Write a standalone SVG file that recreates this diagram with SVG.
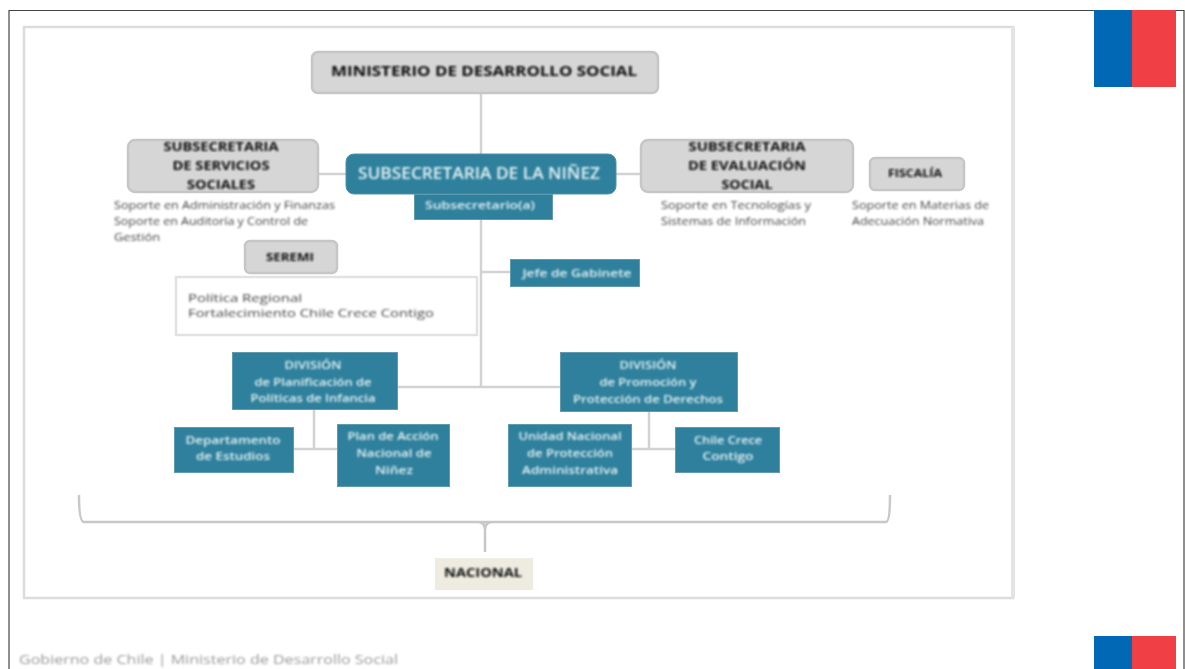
<svg xmlns="http://www.w3.org/2000/svg" width="1185" height="669" viewBox="0 0 1185 669">
<defs>
<filter id="b" x="-5%" y="-5%" width="110%" height="110%"><feGaussianBlur stdDeviation="0.8"/></filter>
<filter id="c" x="-2%" y="-2%" width="104%" height="104%"><feGaussianBlur stdDeviation="0.5"/></filter>
</defs>
<style>
text{font-family:"Open Sans","Liberation Sans",sans-serif;text-anchor:middle}
.g{fill:#d6d6d6;stroke:#c6c6c6;stroke-width:2.5}
.t{fill:#2e809c;stroke:#5f9aae;stroke-width:1}
.k text{fill:#111;font-weight:700;font-size:13px}
.w text{fill:#e6f2f5;font-weight:600;font-size:11.5px}
.n text{fill:#444;font-size:10.5px;text-anchor:start}
.l{fill:none;stroke:#d2d2d2;stroke-width:2.5}
</style>
<rect width="1185" height="669" fill="#fff"/>
<path d="M9 669V10.500H1184V669" fill="none" stroke="#444" stroke-width="1.200"/>
<g filter="url(#c)">
<path id="panel" d="M24 598V27H1013V598Z" fill="#fff" stroke="#dcdcdc" stroke-width="2.500"/>
<path d="M1013 27V598" stroke="#e4e4e4" stroke-width="4" fill="none"/>
<g id="flag-top"><rect x="1094" y="10" width="38" height="77" fill="#0067b4"/><rect x="1132" y="10" width="44" height="77" fill="#f04045"/></g>
<g id="flag-bottom"><rect x="1094" y="636" width="38" height="33" fill="#0067b4"/><rect x="1132" y="636" width="44" height="33" fill="#f04045"/></g>
<g id="connectors" class="l">
<path d="M481 93V154M481 219V387M398 387H560M318 174H346M616 174H641M481 272H510"/>
<path d="M314 410V449M293 449H337M649 412V449M632 449H675"/>
<path d="M79 495Q79 522 84 522H886Q890 522 890 495M485 552V530Q485 522 478 522M485 530Q485 522 492 522" stroke="#c8c8c8"/>
</g>
<g id="ministerio"><rect class="g" x="312" y="52" width="346" height="41" rx="6"/></g>
<g id="serv-sociales"><rect class="g" x="128" y="140" width="190" height="52" rx="7"/></g>
<g id="evaluacion"><rect class="g" x="641" y="140" width="212" height="52" rx="7"/></g>
<g id="fiscalia"><rect class="g" x="870" y="158" width="94" height="32" rx="5"/></g>
<g id="seremi"><rect class="g" x="245" y="241" width="92" height="32" rx="5"/></g>
<g id="regional"><rect x="176" y="277" width="301" height="58" fill="#fff" stroke="#e2e2e2" stroke-width="2.500"/></g>
<g id="ninez"><rect x="346" y="154" width="270" height="40" rx="8" fill="#2e809c" stroke="#4f93aa"/></g>
<g id="subsecretario"><rect class="t" x="414.500" y="194.500" width="138" height="25"/></g>
<g id="jefe"><rect class="t" x="510.500" y="259.500" width="129" height="27"/></g>
<g id="div-plan"><rect class="t" x="232.500" y="352.500" width="165" height="57"/></g>
<g id="div-prom"><rect class="t" x="560.500" y="352.500" width="177" height="59"/></g>
<g id="depto"><rect class="t" x="174.500" y="427.500" width="119" height="45"/></g>
<g id="plan"><rect class="t" x="337.500" y="424.500" width="112" height="62"/></g>
<g id="unidad"><rect class="t" x="508.500" y="424.500" width="123" height="62"/></g>
<g id="chile"><rect class="t" x="675.500" y="427.500" width="104" height="45"/></g>
<g id="nacional"><rect x="435" y="558" width="98" height="32" fill="#eeece1"/></g>
</g>
<g filter="url(#b)">
<g class="k">
<text lengthAdjust="spacingAndGlyphs" x="484" y="76" style="font-size:15px" textLength="306">MINISTERIO DE DESARROLLO SOCIAL</text>
<text lengthAdjust="spacingAndGlyphs" x="221" y="151" textLength="115">SUBSECRETARIA</text><text lengthAdjust="spacingAndGlyphs" x="221" y="170" textLength="97">DE SERVICIOS</text><text lengthAdjust="spacingAndGlyphs" x="221" y="189" textLength="68">SOCIALES</text>
<text lengthAdjust="spacingAndGlyphs" x="747" y="151" textLength="117">SUBSECRETARIA</text><text lengthAdjust="spacingAndGlyphs" x="747" y="170" textLength="118">DE EVALUACIÓN</text><text lengthAdjust="spacingAndGlyphs" x="747" y="189" textLength="51">SOCIAL</text>
<text lengthAdjust="spacingAndGlyphs" x="915" y="177" style="font-size:11px" textLength="54">FISCALÍA</text><text lengthAdjust="spacingAndGlyphs" x="290" y="261" style="font-size:11px" textLength="48">SEREMI</text>
<text lengthAdjust="spacingAndGlyphs" x="483" y="577" textLength="78">NACIONAL</text></g>
<g class="w">
<text lengthAdjust="spacingAndGlyphs" x="479" y="179" style="font-size:16px" textLength="242">SUBSECRETARIA DE LA NIÑEZ</text>
<text lengthAdjust="spacingAndGlyphs" x="480" y="209" textLength="110">Subsecretario(a)</text>
<text lengthAdjust="spacingAndGlyphs" x="577" y="277" textLength="109">Jefe de Gabinete</text>
<text lengthAdjust="spacingAndGlyphs" x="313" y="369" textLength="57">DIVISIÓN</text><text lengthAdjust="spacingAndGlyphs" x="313" y="386" textLength="117">de Planificación de</text><text lengthAdjust="spacingAndGlyphs" x="313" y="402" textLength="125">Políticas de Infancia</text>
<text lengthAdjust="spacingAndGlyphs" x="648" y="369" textLength="57">DIVISIÓN</text><text lengthAdjust="spacingAndGlyphs" x="648" y="386" textLength="97">de Promoción y</text><text lengthAdjust="spacingAndGlyphs" x="648" y="403" textLength="150">Protección de Derechos</text>
<text lengthAdjust="spacingAndGlyphs" x="233" y="444" textLength="95">Departamento</text><text lengthAdjust="spacingAndGlyphs" x="233" y="460" textLength="74">de Estudios</text>
<text lengthAdjust="spacingAndGlyphs" x="393" y="440" textLength="91">Plan de Acción</text><text lengthAdjust="spacingAndGlyphs" x="394" y="457" textLength="75">Nacional de</text><text lengthAdjust="spacingAndGlyphs" x="394" y="474" textLength="38">Niñez</text>
<text lengthAdjust="spacingAndGlyphs" x="570" y="440" textLength="103">Unidad Nacional</text><text lengthAdjust="spacingAndGlyphs" x="570" y="457" textLength="86">de Protección</text><text lengthAdjust="spacingAndGlyphs" x="570" y="474" textLength="96">Administrativa</text>
<text lengthAdjust="spacingAndGlyphs" x="728" y="444" textLength="68">Chile Crece</text><text lengthAdjust="spacingAndGlyphs" x="728" y="460" textLength="51">Contigo</text></g>
<g class="n">
<text lengthAdjust="spacingAndGlyphs" x="114" y="209" textLength="221">Soporte en Administración y Finanzas</text><text lengthAdjust="spacingAndGlyphs" x="114" y="225" textLength="194">Soporte en Auditoría y Control de</text><text lengthAdjust="spacingAndGlyphs" x="114" y="241" textLength="46">Gestión</text>
<text lengthAdjust="spacingAndGlyphs" x="661" y="209" textLength="150">Soporte en Tecnologías y</text><text lengthAdjust="spacingAndGlyphs" x="661" y="225" textLength="145">Sistemas de Información</text>
<text lengthAdjust="spacingAndGlyphs" x="852" y="209" textLength="137">Soporte en Materias de</text><text lengthAdjust="spacingAndGlyphs" x="852" y="225" textLength="132">Adecuación Normativa</text>
<text lengthAdjust="spacingAndGlyphs" x="188" y="302" textLength="114">Política Regional</text><text lengthAdjust="spacingAndGlyphs" x="188" y="317" textLength="246">Fortalecimiento Chile Crece Contigo</text></g>
<text lengthAdjust="spacingAndGlyphs" x="19" y="664" font-size="12" fill="#999" style="text-anchor:start" textLength="379">Gobierno de Chile | Ministerio de Desarrollo Social</text>
</g>
</svg>
